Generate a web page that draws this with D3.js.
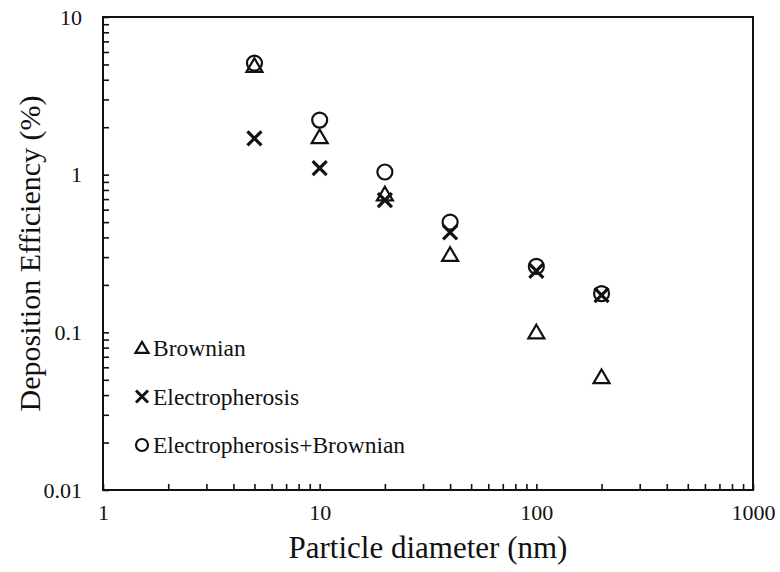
<!DOCTYPE html>
<html>
<head>
<meta charset="utf-8">
<script src="https://cdn.jsdelivr.net/npm/d3@7"></script>
<style>
  html, body { margin: 0; padding: 0; background: #fff; }
</style>
</head>
<body>
<div id="chart"></div>
<script>
// ── Data ──
const diameters    = [5, 10, 20, 40, 100, 200];
const brownian     = [4.9, 1.73, 0.75, 0.31, 0.1, 0.052];
const electro      = [1.7, 1.1, 0.69, 0.43, 0.245, 0.172];
const electroBrown = [5.1, 2.22, 1.04, 0.5, 0.262, 0.176];
const xTicks = [1, 10, 100, 1000];
const yTicks = [0.01, 0.1, 1, 10];

const FONT = '"Liberation Serif", "Times New Roman", serif';
const W = 780, H = 572;
const margin = { top: 17, right: 27, bottom: 82, left: 103 };
const width  = W - margin.left - margin.right;
const height = H - margin.top - margin.bottom;

const svg = d3.select('#chart').append('svg')
  .attr('width', W).attr('height', H)
  .attr('font-family', FONT);
const g = svg.append('g').attr('transform', `translate(${margin.left},${margin.top})`);

const x = d3.scaleLog().domain([1, 1000]).range([0, width]);
const y = d3.scaleLog().domain([0.01, 10]).range([height, 0]);

// minor + major tick values
const minor = (lo, hi) => {
  const out = [];
  for (let p = lo; p < hi; p *= 10) for (let k = 1; k < 10; k++) out.push(+(p * k).toPrecision(3));
  out.push(hi);
  return out;
};

// Axes (ticks point inward)
const xAxis = g.append('g').attr('transform', `translate(0,${height})`)
  .call(d3.axisBottom(x).tickValues(minor(1, 1000)).tickSizeInner(-6).tickSizeOuter(0)
    .tickPadding(14).tickFormat(d => xTicks.includes(d) ? d : ''));
const yAxis = g.append('g')
  .call(d3.axisLeft(y).tickValues(minor(0.01, 10)).tickSizeInner(-6).tickSizeOuter(0)
    .tickPadding(21).tickFormat(d => yTicks.includes(d) ? d : ''));

[xAxis, yAxis].forEach(a => {
  a.attr('font-family', FONT).attr('font-size', 22);
  a.select('.domain').remove();
  a.selectAll('.tick line').attr('stroke', '#111').attr('stroke-width', 1.6);
  a.selectAll('.tick text').attr('fill', '#111');
});

// Frame
g.append('rect').attr('x', 0).attr('y', 0).attr('width', width).attr('height', height)
  .attr('fill', 'none').attr('stroke', '#111').attr('stroke-width', 2);

// Axis titles
svg.append('text')
  .attr('x', margin.left + width / 2).attr('y', 558)
  .attr('text-anchor', 'middle').attr('font-size', 31).attr('fill', '#111')
  .text('Particle diameter (nm)');
svg.append('text')
  .attr('transform', `translate(40,${margin.top + height / 2}) rotate(-90)`)
  .attr('text-anchor', 'middle').attr('font-size', 30).attr('fill', '#111')
  .text('Deposition Efficiency (%)');

// Marker shapes
const markers = {
  tri:   s => `M0,${-s * 0.95}L${s},${s * 0.75}L${-s},${s * 0.75}Z`,
  cross: s => `M${-s},${-s}L${s},${s}M${s},${-s}L${-s},${s}`,
  circ:  s => `M${s},0A${s},${s} 0 1,1 ${-s},0A${s},${s} 0 1,1 ${s},0Z`
};

const series = [
  { name: 'Brownian', values: brownian, shape: 'tri', size: 8, sw: 2.2 },
  { name: 'Electropherosis', values: electro, shape: 'cross', size: 7, sw: 3.2 },
  { name: 'Electropherosis+Brownian', values: electroBrown, shape: 'circ', size: 7.5, sw: 2.2 }
];

series.forEach(s => {
  g.selectAll(null)
    .data(diameters.map((d, i) => ({ d, v: s.values[i] })))
    .join('path')
    .attr('transform', p => `translate(${x(p.d)},${y(p.v)})`)
    .attr('d', markers[s.shape](s.size))
    .attr('fill', 'none').attr('stroke', '#111').attr('stroke-width', s.sw);
});

// Legend
const legend = svg.append('g').attr('transform', 'translate(142,348)');
series.forEach((s, i) => {
  const row = legend.append('g').attr('transform', `translate(0,${i * 48.5})`);
  row.append('path')
    .attr('d', markers[s.shape](s.shape === 'tri' ? 6.5 : 6))
    .attr('fill', 'none').attr('stroke', '#111').attr('stroke-width', s.shape === 'cross' ? 3 : 2.2);
  row.append('text').attr('x', 11).attr('y', 8).attr('font-size', 23.5).attr('fill', '#111').text(s.name);
});
</script>
</body>
</html>
